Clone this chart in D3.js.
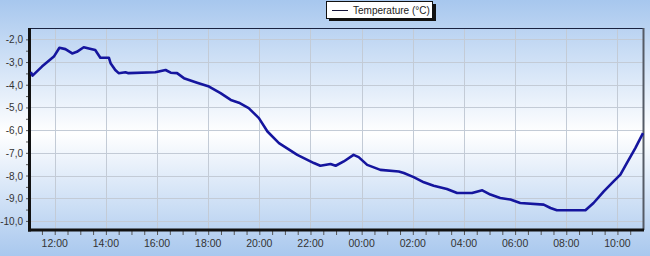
<!DOCTYPE html>
<html>
<head>
<meta charset="utf-8">
<script src="https://cdn.jsdelivr.net/npm/d3@7"></script>
<style>
  html, body { margin: 0; padding: 0; }
  svg { display: block; font-family: "Liberation Sans", Arial, sans-serif; }
</style>
</head>
<body>
<svg id="chart" width="650" height="256"></svg>
<script>
// readings, times roll over midnight into the next day
var times = ['11:04','11:08','11:30','11:58','12:11','12:25','12:41','12:52','13:08','13:20',
             '13:35','13:47','14:07','14:11','14:22','14:30','14:46','14:53','15:56','16:20',
             '16:32','16:47','17:03','17:34','18:02','18:29','18:53','19:12','19:35','19:59',
             '20:19','20:46','21:29','22:08','22:23','22:47','22:59','23:18','23:41','23:53',
             '00:13','00:44','01:27','01:39','02:02','02:26','02:49','03:20','03:44','04:19',
             '04:43','05:02','05:25','05:49','06:12','07:07','07:23','07:38','08:45','09:04',
             '09:28','09:51','10:07','10:22','10:42','11:00'];
var temps = [-3.44,-3.60,-3.20,-2.76,-2.37,-2.43,-2.62,-2.55,-2.35,-2.40,
             -2.47,-2.81,-2.81,-3.05,-3.35,-3.49,-3.45,-3.49,-3.45,-3.35,
             -3.47,-3.49,-3.71,-3.91,-4.08,-4.37,-4.67,-4.79,-5.03,-5.47,
             -6.06,-6.57,-7.09,-7.45,-7.57,-7.49,-7.57,-7.38,-7.09,-7.19,
             -7.53,-7.75,-7.82,-7.89,-8.07,-8.30,-8.45,-8.59,-8.77,-8.77,
             -8.65,-8.84,-8.99,-9.06,-9.21,-9.28,-9.43,-9.53,-9.53,-9.21,
             -8.70,-8.26,-7.96,-7.45,-6.79,-6.13];
var yTicks = [-2,-3,-4,-5,-6,-7,-8,-9,-10];
var seriesName = 'Temperature (°C)';

/*************************************************************************/

var svg = d3.select('#chart');
var W = 650, H = 256;
var m = { left: 30, right: 643, top: 28, bottom: 230 };

// background gradient
var defs = svg.append('defs');
var grad = defs.append('linearGradient').attr('id', 'bg').attr('x1', 0).attr('x2', 0).attr('y1', 0).attr('y2', 1);
grad.append('stop').attr('offset', '0%').attr('stop-color', '#a7c7ee');
grad.append('stop').attr('offset', '52%').attr('stop-color', '#ffffff');
grad.append('stop').attr('offset', '100%').attr('stop-color', '#a9c8ee');
svg.append('rect').attr('width', W).attr('height', H).attr('fill', 'url(#bg)');

// parse times, next day after midnight
var day = 1, prev = -1;
var data = times.map((t, i) => {
  var p = t.split(':').map(Number);
  var mins = p[0] * 60 + p[1];
  if (mins < prev) day += 1;
  prev = mins;
  return { date: new Date(2013, 0, day, p[0], p[1]), value: temps[i] };
});

var xScale = d3.scaleTime()
  .domain([new Date(2013, 0, 1, 11, 2), new Date(2013, 0, 2, 11, 0)])
  .range([m.left, m.right]);
var yScale = d3.scaleLinear().domain([-10.4, -1.5]).range([m.bottom, m.top]);

var majorX = d3.timeHour.every(2).range(new Date(2013, 0, 1, 12), new Date(2013, 0, 2, 11));
var minorX = d3.timeMinute.every(30).range(new Date(2013, 0, 1, 11, 30), new Date(2013, 0, 2, 11));

// grid
var grid = svg.append('g').attr('stroke', '#c3cbd6').attr('stroke-width', 1);
grid.selectAll('.gx').data(majorX).join('line')
  .attr('x1', d => Math.round(xScale(d)) + 0.5).attr('x2', d => Math.round(xScale(d)) + 0.5)
  .attr('y1', m.top).attr('y2', m.bottom);
grid.selectAll('.gy').data(yTicks).join('line')
  .attr('x1', m.left).attr('x2', m.right)
  .attr('y1', d => Math.round(yScale(d)) + 0.5).attr('y2', d => Math.round(yScale(d)) + 0.5);

// frame: thin top and right, heavy left and bottom
svg.append('line').attr('x1', m.left).attr('x2', m.right).attr('y1', m.top + 0.5).attr('y2', m.top + 0.5)
  .attr('stroke', '#1a2340').attr('stroke-width', 1);
svg.append('line').attr('x1', m.right + 0.5).attr('x2', m.right + 0.5).attr('y1', m.top).attr('y2', m.bottom)
  .attr('stroke', '#555b66').attr('stroke-width', 2);

// x axis
var xAxis = svg.append('g').attr('transform', 'translate(0,' + m.bottom + ')')
  .call(d3.axisBottom(xScale).tickValues(minorX).tickSize(5).tickFormat(''));
xAxis.select('.domain').remove();
xAxis.selectAll('line').attr('stroke', '#555');
svg.append('g').selectAll('text').data(majorX).join('text')
  .attr('x', d => xScale(d)).attr('y', 247)
  .attr('text-anchor', 'middle').attr('font-size', 10.5).attr('fill', '#333')
  .text(d3.timeFormat('%H:%M'));

// y axis
var yAxis = svg.append('g').attr('transform', 'translate(' + m.left + ',0)')
  .call(d3.axisLeft(yScale).tickValues(d3.range(-10, -1.9, 0.5)).tickSize(4).tickFormat(''));
yAxis.select('.domain').remove();
yAxis.selectAll('line').attr('stroke', '#555');
svg.append('g').selectAll('text').data(yTicks).join('text')
  .attr('x', 23).attr('y', d => yScale(d) + 4)
  .attr('text-anchor', 'end').attr('font-size', 10).attr('fill', '#333')
  .text(d => d.toFixed(1).replace('.', ','));

svg.append('line').attr('x1', m.left - 0.5).attr('x2', m.left - 0.5).attr('y1', m.top).attr('y2', m.bottom + 1.5)
  .attr('stroke', '#111').attr('stroke-width', 3);
svg.append('line').attr('x1', m.left - 2).attr('x2', m.right + 1).attr('y1', m.bottom).attr('y2', m.bottom)
  .attr('stroke', '#111').attr('stroke-width', 3);

// series
var lineGen = d3.line().x(d => xScale(d.date)).y(d => yScale(d.value));
svg.append('path').datum(data).attr('d', lineGen)
  .attr('fill', 'none').attr('stroke', '#15159e').attr('stroke-width', 2.6).attr('stroke-linejoin', 'round');

// legend
var lg = svg.append('g').attr('transform', 'translate(326,1)');
lg.append('rect').attr('x', 3).attr('y', 3).attr('width', 107).attr('height', 17).attr('fill', '#111');
lg.append('rect').attr('x', 0.5).attr('y', 0.5).attr('width', 106).attr('height', 17)
  .attr('fill', '#fff').attr('stroke', '#111');
lg.append('line').attr('x1', 6).attr('x2', 22).attr('y1', 9.5).attr('y2', 9.5).attr('stroke', '#15153a').attr('stroke-width', 1);
lg.append('text').attr('x', 27).attr('y', 13).attr('font-size', 10).attr('fill', '#222').text(seriesName);
</script>
</body>
</html>
